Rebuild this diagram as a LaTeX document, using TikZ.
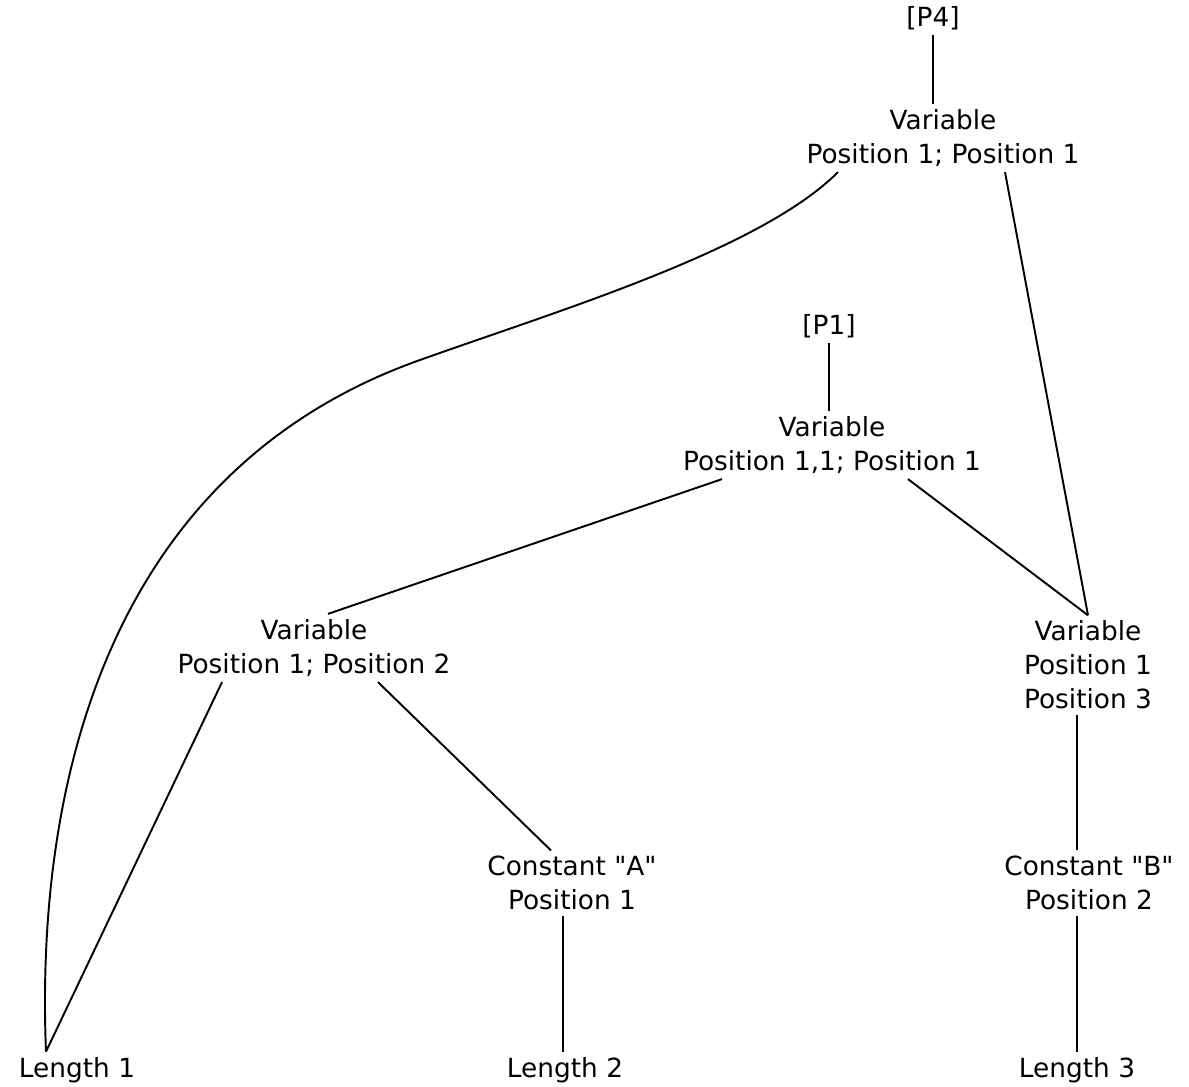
\documentclass[tikz,border=0pt]{standalone}
\usepackage{fontspec}
\setmainfont{DejaVu Sans}
\newfontfamily\qtfont{DejaVu Sans}
\usetikzlibrary{calc}

\begin{document}
\begin{tikzpicture}[
        x=0.02cm, y=-0.02cm,
        term/.style={align=center, inner sep=3pt,
                     font=\fontsize{15}{19.3}\selectfont},
        link/.style={line width=1.1pt, black},
    ]

    \useasboundingbox (0,0) rectangle (1189,1087);

    \def\qt{{\qtfont"}}

    % ---------- top variable (P4) ------------------------------------------
    \node[term] (p4)   at (933, 18)  {[P4]};
    \node[term] (varA) at (943, 138) {Variable\\Position 1; Position 1};

    % ---------- middle variable (P1) ---------------------------------------
    \node[term] (p1)   at (829, 326) {[P1]};
    \node[term] (varB) at (832, 445) {Variable\\Position 1,1; Position 1};

    % ---------- second level -----------------------------------------------
    \node[term] (varC) at (314, 648) {Variable\\Position 1; Position 2};
    \node[term] (varD) at (1088, 665) {Variable\\Position 1\\Position 3};

    % ---------- constants --------------------------------------------------
    \node[term] (constA) at (572, 883)  {Constant \qt A\qt\\Position 1};
    \node[term] (constB) at (1089, 883) {Constant \qt B\qt\\Position 2};

    % ---------- lengths ----------------------------------------------------
    \node[term] (len1) at (77, 1070)   {Length 1};
    \node[term] (len2) at (565, 1070)  {Length 2};
    \node[term] (len3) at (1077, 1070) {Length 3};

    % ---------- links ------------------------------------------------------
    \draw[link] (p4.south) -- (p4.south |- varA.north);
    \draw[link] (p1.south) -- (p1.south |- varB.north);

    \draw[link] ($(varA.south)+(-105,0)$)
        .. controls (760,250) and (560,310) .. (420,360)
        .. controls (110,470) and (35,780) .. ($(len1.north)+(-31,0)$);
    \draw[link] ($(varA.south)+(62,0)$) -- (varD.north);

    \draw[link] ($(varB.south)+(-110,0)$) -- ($(varC.north)+(14,0)$);
    \draw[link] ($(varB.south)+(76,0)$) -- (varD.north);

    \draw[link] ($(varC.south)+(-92,0)$) -- ($(len1.north)+(-31,0)$);
    \draw[link] ($(varC.south)+(64,0)$) -- ($(constA.north)+(-21,0)$);

    \draw[link] ($(constA.south)+(-9,0)$) coordinate (a2) -- (a2 |- len2.north);
    \draw[link] ($(varD.south)+(-11,0)$) coordinate (d1) -- (d1 |- constB.north);
    \draw[link] ($(constB.south)+(-12,0)$) coordinate (b3) -- (b3 |- len3.north);

\end{tikzpicture}
\end{document}
